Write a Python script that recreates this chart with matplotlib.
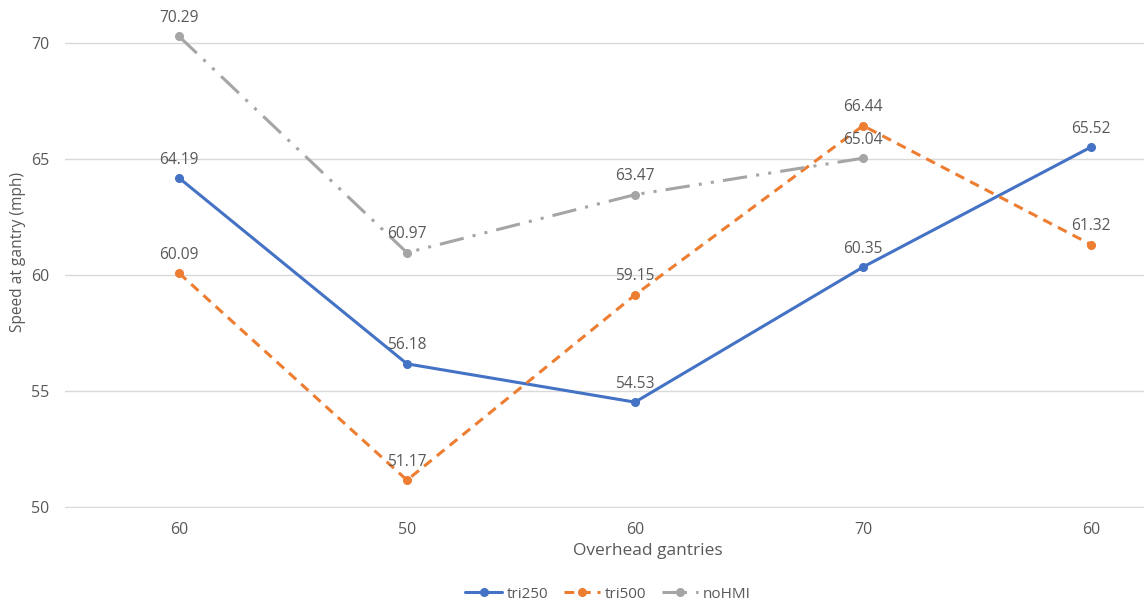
import numpy as np
import matplotlib
matplotlib.use("Agg")
import matplotlib.pyplot as plt

categories = ["60", "50", "60", "70", "60"]
tri250 = [64.19, 56.18, 54.53, 60.35, 65.52]
tri500 = [60.09, 51.17, 59.15, 66.44, 61.32]
nohmi = [70.29, 60.97, 63.47, 65.04, np.nan]
y_ticks = [50, 55, 60, 65, 70]

plt.rcParams["font.family"] = ["Open Sans", "DejaVu Sans"]
text_color = "#595959"

W, H = 1144, 605
fig = plt.figure(figsize=(W / 100, H / 100), dpi=100)
# axes box runs beyond the canvas on the top and right
left, right = 65, 1205
bottom, top = 508, -73
ax = fig.add_axes([left / W, (H - bottom) / H, (right - left) / W, (bottom - top) / H])

x = np.arange(len(categories))
series = [
    ("tri250", tri250, "#4472C4", "-"),
    ("tri500", tri500, "#ED7D31", (0, (3.2, 2.2))),
    ("noHMI", nohmi, "#A5A5A5", (0, (8, 3, 1, 3, 1, 3))),
]
for name, vals, col, ls in series:
    ax.plot(x, vals, color=col, linestyle=ls, linewidth=2.2, marker="o",
            markersize=5.5, label=name, solid_capstyle="round")
    for xi, v in zip(x, vals):
        if np.isnan(v):
            continue
        ax.annotate(f"{v:.2f}", (xi, v), xytext=(0, 7.5), textcoords="offset points",
                    ha="center", va="bottom", fontsize=11.2, color=text_color)

ax.set_xlim(-0.5, len(categories) - 0.5)
ax.set_ylim(49.97, 75)
ax.set_yticks(y_ticks)
ax.set_xticks(x)
ax.set_xticklabels(categories)
ax.tick_params(axis="both", length=0, labelsize=11.5, colors=text_color)
ax.tick_params(axis="y", pad=11)
ax.tick_params(axis="x", pad=10)
ax.grid(axis="y", color="#D9D9D9", linewidth=1)
ax.set_axisbelow(True)
for s in ax.spines.values():
    s.set_visible(False)

fig.text(648 / W, 1 - 551 / H, "Overhead gantries", ha="center", va="center",
         fontsize=12.5, color=text_color)
fig.text(18 / W, 1 - 252 / H, "Speed at gantry (mph)", ha="center", va="center",
         rotation=90, fontsize=11.2, color=text_color)

handles, labels = ax.get_legend_handles_labels()
fig.legend(handles, labels, loc="center", bbox_to_anchor=(608 / W, 1 - 594 / H),
           ncol=3, frameon=False, fontsize=11, labelcolor=text_color,
           handlelength=2.4, columnspacing=1.0, handletextpad=0.3)

fig.savefig("out.png", dpi=100)
